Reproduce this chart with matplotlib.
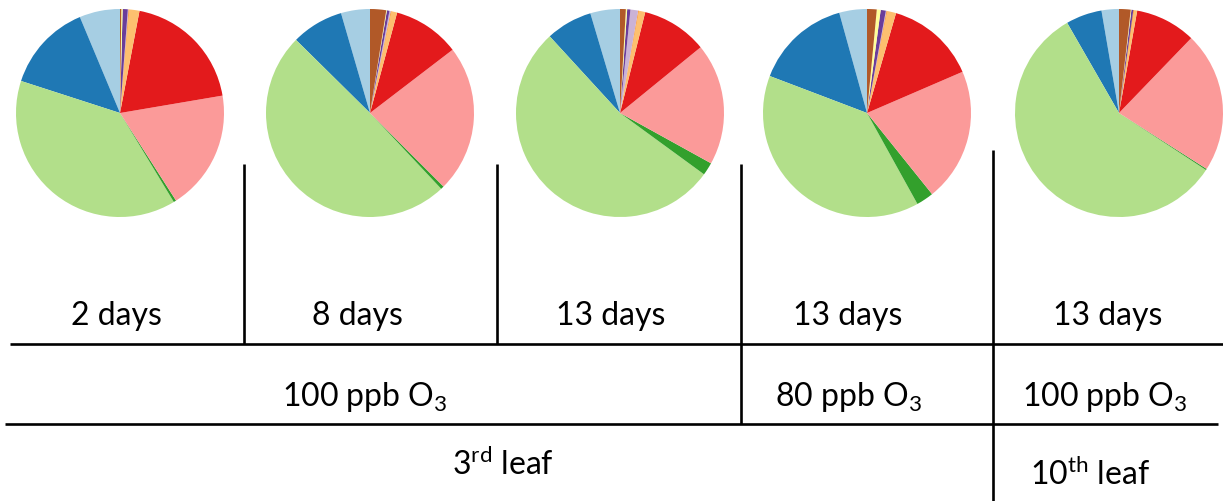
import matplotlib
matplotlib.use("Agg")
import matplotlib.pyplot as plt

plt.rcParams['font.family'] = ['Lato', 'DejaVu Sans']
plt.rcParams['mathtext.fontset'] = 'custom'
plt.rcParams['mathtext.rm'] = 'Lato'
plt.rcParams['mathtext.it'] = 'Lato:italic'
plt.rcParams['mathtext.bf'] = 'Lato:bold'

# slice shares (%) in Paired colour order:
# lt blue, blue, lt green, green, pink, red, lt orange, orange, lt purple, purple, yellow, brown
share_2d = [6.3, 13.7, 38.6, 0.4, 18.6, 19.3, 1.6, 0.1, 0.1, 0.8, 0.2, 0.2]
share_8d = [4.5, 8.1, 49.4, 0.5, 22.9, 10.4, 0.9, 0.1, 0.2, 0.4, 0.1, 2.5]
share_13d = [4.6, 7.2, 53.1, 2.0, 18.9, 10.2, 1.0, 0.1, 1.2, 0.5, 0.2, 0.9]
share_13d_80 = [4.3, 14.9, 38.8, 2.7, 20.7, 14.0, 1.4, 0.1, 0.1, 0.8, 0.6, 1.5]
share_13d_10th = [2.7, 5.6, 57.4, 0.2, 21.8, 9.4, 0.5, 0.1, 0.0, 0.3, 0.1, 1.8]

day_labels = ['2 days', '8 days', '13 days', '13 days', '13 days']
ozone_labels = ['100 ppb O$_3$', '80 ppb O$_3$', '100 ppb O$_3$']
leaf_labels = ['3$^{\\mathrm{rd}}$ leaf', '10$^{\\mathrm{th}}$ leaf']

shares = [share_2d, share_8d, share_13d, share_13d_80, share_13d_10th]
colors = list(plt.cm.Paired.colors)

W, H = 1223, 502
fig = plt.figure(figsize=(W / 100, H / 100), dpi=100)
ax = fig.add_axes([0, 0, 1, 1])

# work in pixel coords, y measured from the top
def Y(y):
    return H - y

pie_x = [120, 370, 620, 867, 1119]
pie_y = 114
radius = 104
for cx, vals in zip(pie_x, shares):
    ax.pie(vals, colors=colors, startangle=90, counterclock=True,
           center=(cx, Y(pie_y)), radius=radius, frame=True,
           wedgeprops=dict(linewidth=0))

lw = 1.9
# horizontal rules
ax.plot([10, W], [Y(345), Y(345)], color='black', lw=lw, solid_capstyle='butt')
ax.plot([5, 1218], [Y(425), Y(425)], color='black', lw=lw, solid_capstyle='butt')
# vertical rules
ax.plot([244, 244], [Y(165), Y(345)], color='black', lw=lw, solid_capstyle='butt')
ax.plot([497, 497], [Y(165), Y(345)], color='black', lw=lw, solid_capstyle='butt')
ax.plot([741, 741], [Y(165), Y(425)], color='black', lw=lw, solid_capstyle='butt')
ax.plot([993, 993], [Y(151), Y(H)], color='black', lw=lw, solid_capstyle='butt')

fs = 23
day_x = [116, 357, 611, 848, 1108]
for x, lab in zip(day_x, day_labels):
    ax.text(x, Y(316), lab, ha='center', va='center', fontsize=fs)

ozone_x = [365, 848, 1105]
for x, lab in zip(ozone_x, ozone_labels):
    ax.text(x, Y(397), lab, ha='center', va='center', fontsize=fs)

leaf_x = [503, 1090]
leaf_y = [465, 475]
for x, y, lab in zip(leaf_x, leaf_y, leaf_labels):
    ax.text(x, Y(y), lab, ha='center', va='center', fontsize=fs)

ax.set_xlim(0, W)
ax.set_ylim(0, H)
ax.set_aspect('auto')
ax.axis('off')

fig.savefig('out.png', dpi=100)
